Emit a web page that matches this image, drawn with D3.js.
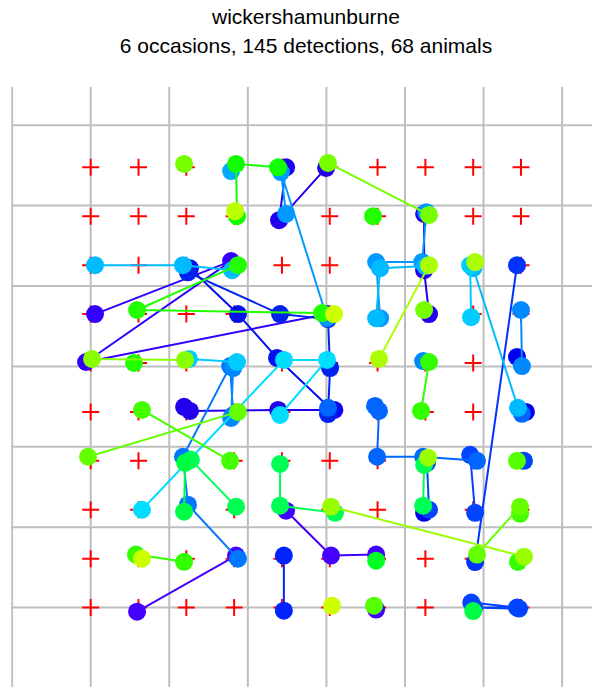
<!DOCTYPE html>
<html>
<head>
<meta charset="utf-8">
<script src="https://cdn.jsdelivr.net/npm/d3@7"></script>
<style>
  html, body { margin: 0; padding: 0; background: #fff; }
  svg { display: block; }
</style>
</head>
<body>
<svg id="chart" width="592" height="687"></svg>
<script>
// Session title and summary
const titleText = "wickershamunburne";
const subtitleText = "6 occasions, 145 detections, 68 animals";

// Trapping grid: 10 x 10 traps, 30 m apart
const trapCols = d3.range(10);
const trapRows = d3.range(10);
const trapSpacing = 30;     // metres
const gridSpacing = 49.3;   // metres between reference grid lines

// One colour per animal (drawn in this order)
const animalColours = [
  "#3300FF", "#4400FF", "#4400FF", "#4400FF",
  "#2200EE", "#2200EE", "#2200EE",
  "#0011EE", "#0022EE", "#0000EE", "#0000EE", "#0000EE",
  "#0022FF", "#0033FF",
  "#0044FF", "#0044FF", "#0044FF", "#0044FF",
  "#0066FF", "#0066FF", "#0066FF",
  "#0077FF", "#0088FF", "#0088FF", "#0088FF",
  "#0099FF", "#0099FF", "#00AAFF",
  "#00BBFF", "#00BBFF", "#00BBFF",
  "#00CCFF", "#00CCFF", "#00DDFF",
  "#00FF55", "#00FF55", "#00FF55", "#00FF44", "#00FF44", "#00FF22",
  "#11FF00", "#22FF00", "#22FF00", "#22FF00",
  "#33FF00", "#33FF00", "#33FF00",
  "#44FF00", "#44FF00", "#55FF00", "#55FF00",
  "#66FF00", "#66FF00",
  "#77FF00", "#77FF00", "#77FF00",
  "#88FF00", "#99FF00", "#99FF00",
  "#AAFF00", "#AAFF00", "#BBFF00",
  "#CCFF00", "#CCFF00", "#CCFF00"
];

// Detections per animal, in time order: [trap column, trap row (0 = north),
// east offset m, south offset m] - offsets separate repeat captures at a trap
const animalTracks = [
  [[0,3,2.7,0],[3,2,-1.9,-2.5],[0,4,-2.9,-0.6],[5,3,-1.7,0]],
  [[4,7,2.6,0.6],[5,8,0.8,-1.9],[6,8,-0.9,-2.5]],
  [[3,8,1.2,-1.9],[1,9,-0.9,2.5]],
  [[6,9,-0.9,1.2]],
  [[4,0,2.6,0],[4,1,-1.8,2.4],[5,0,-2.3,0.4]],
  [[7,1,-0.8,-1.4],[7,2,-0.8,3.1],[7,3,2.3,0]],
  [[2,5,-1.4,-3.1],[2,5,2.3,-0.6],[4,5,-2.4,-1.2],[5,5,2.9,-1.2]],
  [[2,2,2.3,1.9],[3,3,2.4,0],[4,4,-3.1,-3.1],[5,5,1.4,-1.2]],
  [[2,2,1,4.4],[4,3,-1.2,0],[5,3,-1.1,3.1],[5,4,0.2,3.1],[5,5,-1.1,1.3]],
  [[9,4,-2.5,-3.7]],
  [[9,5,3.1,0]],
  [[7,7,-0.8,1.9]],
  [[4,8,1.2,-1.9],[4,9,1.2,1.9]],
  [[9,2,-2.5,0],[8,8,1.2,2.1]],
  [[7,6,1,1.3],[7,7,2.3,0]],
  [[8,6,-1.9,-3.7],[8,7,1.2,1.9]],
  [[9,6,1.9,0]],
  [[8,9,-1.2,-3.1],[9,9,-2.5,0],[8,9,0.6,0],[9,9,-1.2,0.6]],
  [[6,5,-1.6,-3.7],[6,5,0.9,-0.6],[6,6,-0.3,-2.5],[7,6,-1.4,-2.5],[8,6,2.4,0]],
  [[9,5,0.6,1.2]],
  [[5,5,-1.1,-2.5]],
  [[3,5,-0.6,1.9],[3,4,-2.5,1.9],[2,6,-2.1,-2.5],[2,7,1,-3.1],[3,8,2.4,0]],
  [[3,4,-0.6,3.1],[3,5,-1.9,3.7]],
  [[7,4,-1.4,-1.2]],
  [[9,3,0,-2.5],[9,4,0.6,1.9]],
  [[4,1,2.6,-1.4],[4,0,-0.6,2.9],[5,3,-1.7,2.4]],
  [[7,1,0.6,-2.5],[7,2,-2,-1.9],[6,2,-0.9,-1.9],[6,3,1.6,2.5]],
  [[3,0,-1.9,2.3]],
  [[6,3,-0.9,2.5],[6,2,1.6,1.9],[7,2,0,0.6]],
  [[8,2,0,1.9],[9,5,-1.9,-2.5]],
  [[0,2,2.7,0],[2,2,-2.1,0],[3,2,-1.3,3.1]],
  [[8,2,-1.9,0],[8,3,-1.3,1.9]],
  [[2,4,1.7,-2.5],[3,4,1.8,-0.6]],
  [[1,7,2.2,0],[4,4,1.3,-1.9],[5,4,-1.7,-1.9],[4,5,-1.2,1.9]],
  [[7,6,-0.8,2.5],[7,7,-1.4,-2.5]],
  [[2,6,2.9,-0.6],[3,7,1.2,-1.9]],
  [[4,6,-1.2,1.9],[4,7,-1.2,-2.5],[5,7,3.3,1.9]],
  [[2,6,-0.8,1.2],[2,7,-1.4,1.2]],
  [[8,9,0,2.1]],
  [[6,8,-0.9,1.2]],
  [[3,1,1.8,0],[3,0,1.2,-2.1],[4,0,-2.4,0]],
  [[6,1,-2.8,0]],
  [[3,2,2.4,0],[1,3,-0.9,-2.5],[5,3,-4.8,-0.6]],
  [[1,4,-2.8,0]],
  [[7,4,2.3,-0.6],[7,5,-2.7,-0.6]],
  [[1,8,-1.6,-2.5],[2,8,-1.4,1.9]],
  [[9,8,-1.9,2]],
  [[1,5,2.2,-1.2],[3,6,-2.5,0]],
  [[9,7,-0.6,2.5]],
  [[9,6,-2.5,0]],
  [[6,9,-2.2,-1.2]],
  [[0,6,-1.7,-2.5],[3,5,2.4,0]],
  [[9,7,-0.6,-1.9],[8,8,2.4,-2.5]],
  [[2,0,-1.4,-2.1]],
  [[5,0,-1.1,-2.7],[7,1,2.3,-0.8]],
  [[7,3,-0.8,-2.5]],
  [[0,4,0.8,-2.5],[2,4,-0.8,-1.9]],
  [[7,6,1.7,-1.9]],
  [[5,7,0.8,-1.9],[9,8,1.9,-1.2]],
  [[7,2,2.3,0],[6,4,0.9,-2.5]],
  [[8,2,1.2,-1.9]],
  [[3,1,0.6,-3.1]],
  [[5,3,2.7,0]],
  [[1,8,2.2,0]],
  [[5,9,1.4,-1.2]]
];

const W = 592, H = 687;
const svg = d3.select("#chart");
svg.append("rect").attr("width", W).attr("height", H).attr("fill", "#fff");

const extent = (trapCols.length - 1) * trapSpacing;
const x = d3.scaleLinear().domain([0, extent]).range([90.7, 521]);
const y = d3.scaleLinear().domain([0, extent]).range([607.6, 167.3]);

// Plot region
const region = { left: 11.2, top: 86.7, right: W, bottom: H };
svg.append("clipPath").attr("id", "plotclip")
  .append("rect")
  .attr("x", region.left).attr("y", region.top)
  .attr("width", region.right - region.left)
  .attr("height", region.bottom - region.top);

const plot = svg.append("g").attr("clip-path", "url(#plotclip)");

// Reference grid
const gx = d3.range(-3, 10).map(k => k * gridSpacing);
plot.append("g").selectAll("line").data(gx).join("line")
  .attr("x1", d => x(d)).attr("x2", d => x(d))
  .attr("y1", region.top).attr("y2", region.bottom)
  .attr("stroke", "#bebebe").attr("stroke-width", 2);
plot.append("g").selectAll("line").data(gx).join("line")
  .attr("y1", d => y(d)).attr("y2", d => y(d))
  .attr("x1", region.left).attr("x2", region.right)
  .attr("stroke", "#bebebe").attr("stroke-width", 2);

// Traps
const traps = trapRows.flatMap(r => trapCols.map(c => ({ c, r })));
const arm = 8.5;
plot.append("g").selectAll("path").data(traps).join("path")
  .attr("d", d => {
    const px = x(d.c * trapSpacing), py = y((9 - d.r) * trapSpacing);
    return `M${px - arm},${py}H${px + arm}M${px},${py - arm}V${py + arm}`;
  })
  .attr("stroke", "#ff0000").attr("stroke-width", 2).attr("fill", "none");

// Detection location of one capture
const pos = d => [x(d[0] * trapSpacing + d[2]), y((9 - d[1]) * trapSpacing - d[3])];

// Animals: movement track then capture dots
const animals = animalTracks.map((t, i) => ({ track: t, colour: animalColours[i] }));
const line = d3.line().x(d => pos(d)[0]).y(d => pos(d)[1]);

const ag = plot.append("g").selectAll("g").data(animals).join("g");
ag.filter(a => a.track.length > 1).append("path")
  .attr("d", a => line(a.track))
  .attr("fill", "none")
  .attr("stroke", a => a.colour)
  .attr("stroke-width", 2)
  .attr("stroke-linejoin", "round");
ag.selectAll("circle").data(a => a.track.map(d => ({ d, colour: a.colour }))).join("circle")
  .attr("cx", p => pos(p.d)[0])
  .attr("cy", p => pos(p.d)[1])
  .attr("r", 9)
  .attr("fill", p => p.colour);

// Titles
svg.append("text").attr("x", 306).attr("y", 24)
  .attr("text-anchor", "middle")
  .attr("font-family", "Liberation Sans, Arial, sans-serif")
  .attr("font-size", 21).attr("fill", "#000")
  .text(titleText);
svg.append("text").attr("x", 306).attr("y", 53)
  .attr("text-anchor", "middle")
  .attr("font-family", "Liberation Sans, Arial, sans-serif")
  .attr("font-size", 21).attr("fill", "#000")
  .text(subtitleText);
</script>
</body>
</html>
